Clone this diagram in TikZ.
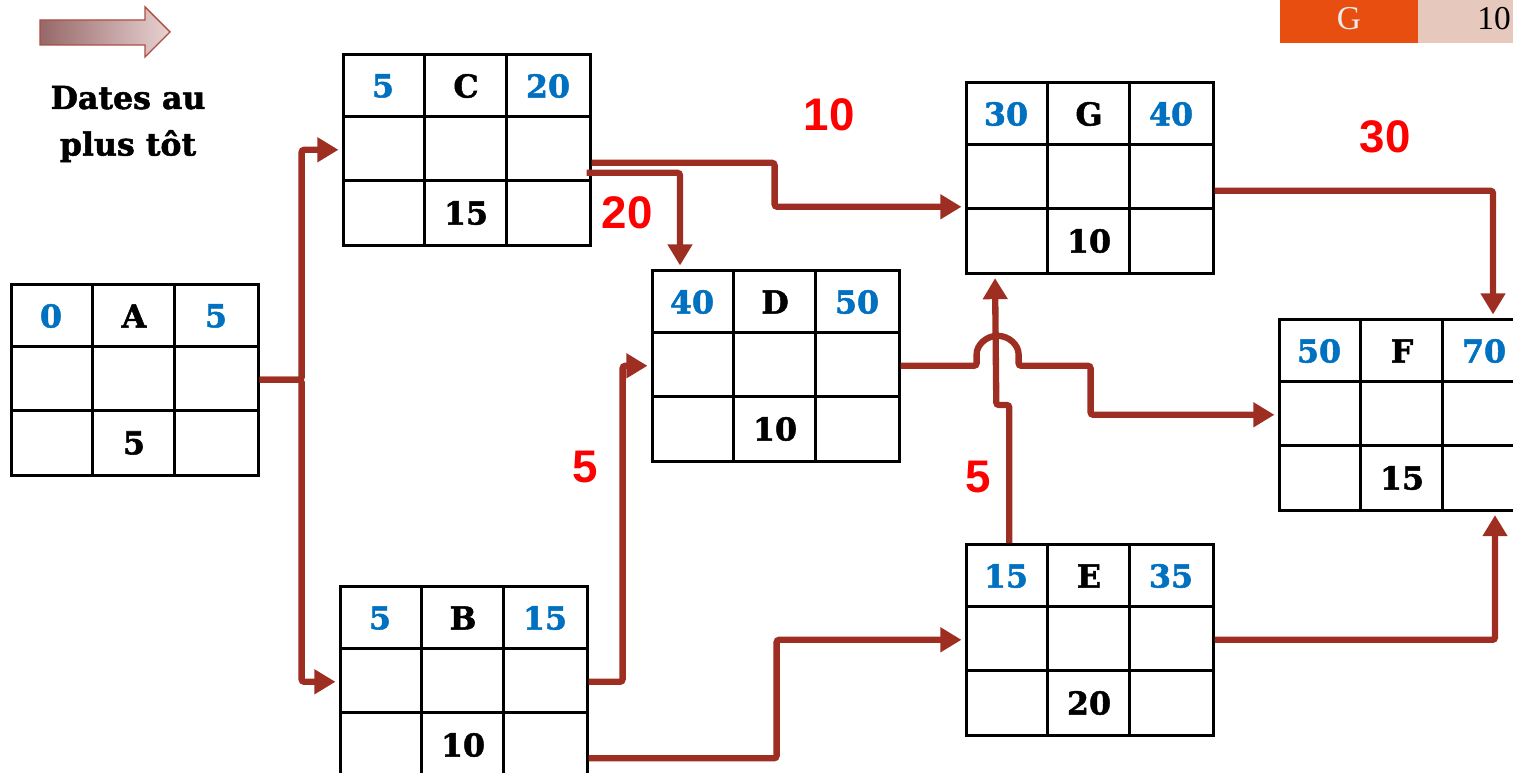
\documentclass[tikz,border=0pt]{standalone}
\usepackage{fontspec}
\setmainfont{DejaVu Serif}[BoldFeatures={FakeBold=1.6}]
\newfontfamily\labelfont{Liberation Sans}
\newfontfamily\legendfont{Liberation Serif}
\usepackage{tikz}
\usetikzlibrary{arrows.meta,calc,positioning}
\definecolor{linkcol}{RGB}{158,46,34}
\definecolor{datecol}{RGB}{0,112,192}
\definecolor{tagcol}{RGB}{232,78,16}
\definecolor{tagbg}{RGB}{230,200,188}

% one task as a 3x3 table: name, north-west corner, early start, task, early finish, duration
\newcommand{\tasktable}[6]{%
  \node[tasktab,anchor=north west] (#1) at (#2) {};
  \foreach \i in {1,2} {
    \draw[tabline] ($(#1.north west)+(\i*82.33,0)$) -- ++(0,191);
    \draw[tabline] ($(#1.north west)+(0,\i*63.67)$) -- ++(247,0);
  }
  \node[datenum] at ($(#1.north west)+(41,33)$) {#3};
  \node[tasknum] at ($(#1.north west)+(124,33)$) {#4};
  \node[datenum] at ($(#1.north west)+(206,33)$) {#5};
  \node[tasknum] at ($(#1.north west)+(124,160)$) {#6};
}

\begin{document}
\begin{tikzpicture}[x=0.02cm,y=-0.02cm,>={Triangle[length=12pt,width=13.5pt]},
  tasktab/.style={draw,line width=1.5pt,minimum width=4.94cm,minimum height=3.82cm,inner sep=0pt},
  tabline/.style={line width=1.5pt},
  datenum/.style={text=datecol,font=\fontsize{18}{20}\selectfont\bfseries},
  tasknum/.style={font=\fontsize{18}{20}\selectfont\bfseries},
  flow/.style={->,linkcol,line width=3.6pt,rounded corners=1.5pt,shorten >=2pt},
  dur/.style={text=red,font=\labelfont\fontsize{26}{28}\selectfont\bfseries}]
\useasboundingbox (0,0) rectangle (1513,773);
\clip (0,0) rectangle (1513,773);
% legend arrow and title
\draw[linkcol!85,line width=0.8pt,left color={rgb,255:red,150;green,104;blue,104},right color={rgb,255:red,232;green,210;blue,210}]
  (40,20) -- (145,20) -- (145,7) -- (170,32) -- (145,57) -- (145,45) -- (40,45) -- cycle;
\node[font=\fontsize{18}{26.5}\selectfont\bfseries,align=center] (title) at (128,124) {Dates au\\plus tôt};
% tag in the corner
\fill[tagcol] (1280,0) rectangle (1418,43);
\fill[tagbg] (1418,0) rectangle (1513,43);
\node[text=black!8,font=\legendfont\fontsize{19}{20}\selectfont] (tagG) at (1349,19) {G};
\node[font=\legendfont\fontsize{19}{20}\selectfont] (tag10) at (1494,19) {10};
% tasks
\tasktable{A}{10,283}{0}{A}{5}{5}
\tasktable{C}{342,53}{5}{C}{20}{15}
\tasktable{B}{339,585}{5}{B}{15}{10}
\tasktable{D}{651,269}{40}{D}{50}{10}
\tasktable{G}{965,81}{30}{G}{40}{10}
\tasktable{E}{965,543}{15}{E}{35}{20}
\tasktable{F}{1278,318}{50}{F}{70}{15}
% links
\draw[flow] (A.east) -- ++(42,0) |- (C.west);
\draw[flow] (A.east) -- ++(42,0) |- (B.west);
\draw[flow] ($(C.east)+(0,13)$) -- ++(183,0) |- ($(G.west)+(0,29)$);
\draw[flow] ($(C.east)+(-5,23)$) -| ($(D.north west)+(29,0)$);
\draw[flow] ($(G.east)+(0,13)$) -| ($(F.north west)+(215,0)$);
\draw[flow] (B.east) -- ++(34,0) |- (D.west);
\draw[flow] (D.east) -- ++(76,0) -- ++(0,-9) arc[start angle=180,end angle=0,radius=0.42cm]
  -- ++(0,9) -- ++(72,0) |- (F.west);
\draw[flow] ($(E.north)+(-80.5,0)$) -- ++(0,-138) -- ++(-13,0) -- ($(G.south west)+(30,0)$);
\draw[flow] ($(B.east)+(0,76.5)$) -- ++(188,0) |- (E.west);
\draw[flow] (E.east) -| ($(F.south west)+(217,0)$);
% durations on the links
\node[dur] (dCG) at (829,115) {10};
\node[dur] (dCD) at (627,213) {20};
\node[dur] (dGF) at (1385,137) {30};
\node[dur] (dBD) at (585,467) {5};
\node[dur] (dEG) at (978,477) {5};
\end{tikzpicture}
\end{document}
